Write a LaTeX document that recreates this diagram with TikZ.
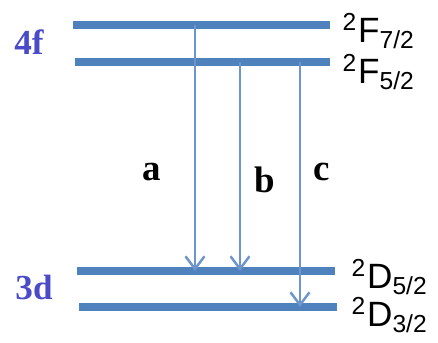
\documentclass[tikz,border=0pt]{standalone}
\usepackage{fontspec}
\setmainfont{Liberation Serif}
\setsansfont{Liberation Sans}
\usetikzlibrary{arrows.meta}

\begin{document}
\begin{tikzpicture}[line cap=butt, line join=round,
  level/.style={line width=2pt, levelblue},
  trans/.style={line width=0.7pt, transblue, -{Straight Barb[length=3.6pt,width=5.4pt]}},
  shell/.style={font=\fontsize{10}{12}\selectfont\bfseries, text=shellblue},
  term/.style={font=\sffamily\fontsize{10}{12}\selectfont, anchor=west, inner sep=0pt},
  lbl/.style={font=\fontsize{10.5}{12}\selectfont\bfseries}]

% Colors
\definecolor{levelblue}{RGB}{79,129,189}
\definecolor{transblue}{RGB}{110,150,205}
\definecolor{shellblue}{RGB}{75,75,200}

\useasboundingbox (0,0) rectangle (4.38,3.43);

% 4f levels
\draw[level] (0.73,3.18) coordinate (f7l) -- (3.30,3.18) coordinate (f7r);
\draw[level] (0.75,2.81) coordinate (f5l) -- (3.30,2.81) coordinate (f5r);
\node[shell] (s4f) at (0.29,3.01) {4f};
\node[term] (t7) at (3.42,3.12) {\textsuperscript{2}F\textsubscript{7/2}};
\node[term] (t5) at (3.42,2.71) {\textsuperscript{2}F\textsubscript{5/2}};

% 3d levels
\draw[level] (0.77,0.72) coordinate (d5l) -- (3.35,0.72) coordinate (d5r);
\draw[level] (0.79,0.36) coordinate (d3l) -- (3.37,0.36) coordinate (d3r);
\node[shell] (s3d) at (0.34,0.56) {3d};
\node[term] (u5) at (3.51,0.66) {\textsuperscript{2}D\textsubscript{5/2}};
\node[term] (u3) at (3.51,0.28) {\textsuperscript{2}D\textsubscript{3/2}};

% Transitions
\coordinate (xa) at (1.95,0);
\coordinate (xb) at (2.40,0);
\coordinate (xc) at (3.00,0);
\draw[trans] (f7l -| xa) -- (d5l -| xa);
\draw[trans] (f5l -| xb) -- (d5l -| xb);
\draw[trans] (f5l -| xc) -- (d3l -| xc);

\node[lbl] (la) at (1.52,1.71) {a};
\node[lbl] (lb) at (2.65,1.63) {b};
\node[lbl] (lc) at (3.22,1.71) {c};

\end{tikzpicture}
\end{document}
